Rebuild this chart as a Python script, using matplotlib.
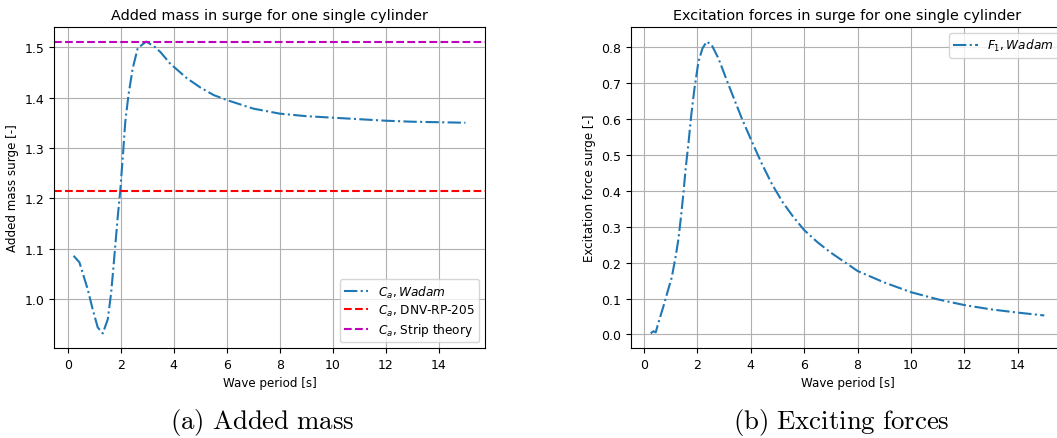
import matplotlib
matplotlib.use("Agg")
import matplotlib.pyplot as plt
import numpy as np

plt.rcParams["mathtext.fontset"] = "dejavusans"

# added mass in surge, Wadam
period_am = [0.22, 0.44, 0.75, 0.94, 1.13, 1.32, 1.51, 1.64, 1.76, 1.89, 1.98,
             2.08, 2.17, 2.29, 2.45, 2.64, 2.96, 3.27, 3.5, 3.9, 4.0, 4.5, 5.0,
             5.5, 6.0, 7.0, 8.0, 9.0, 10.0, 11.0, 12.0, 13.0, 14.0, 15.0]
added_mass = [1.086, 1.073, 1.020, 0.980, 0.944, 0.932, 0.960, 1.014, 1.086,
              1.166, 1.215, 1.285, 1.352, 1.405, 1.458, 1.498, 1.511, 1.501,
              1.490, 1.465, 1.461, 1.438, 1.420, 1.405, 1.395, 1.378, 1.368,
              1.363, 1.360, 1.357, 1.354, 1.352, 1.351, 1.350]
ca_dnv = 1.214
ca_strip = 1.510

# excitation force in surge, Wadam
period_f = [0.25, 0.35, 0.44, 0.54, 0.73, 0.89, 1.04, 1.19, 1.29, 1.39, 1.48,
            1.56, 1.67, 1.77, 1.89, 2.04, 2.19, 2.35, 2.54, 2.79, 3.17, 3.67,
            4.05, 4.4, 4.8, 5.2, 5.6, 6.0, 6.5, 7.0, 8.0, 9.0, 10.0, 11.0,
            12.0, 13.0, 14.0, 15.0]
force = [0.003, 0.009, 0.006, 0.033, 0.079, 0.121, 0.159, 0.219, 0.266, 0.331,
         0.396, 0.462, 0.536, 0.611, 0.685, 0.760, 0.797, 0.816, 0.806, 0.769,
         0.695, 0.601, 0.536, 0.478, 0.418, 0.368, 0.327, 0.291, 0.257, 0.228,
         0.177, 0.145, 0.118, 0.098, 0.082, 0.070, 0.061, 0.053]

W, H = 1057, 439
fig = plt.figure(figsize=(W / 100, H / 100), dpi=100)

leg_kw = dict(fontsize=8.7, labelspacing=0.25, borderpad=0.35)

ax1 = fig.add_axes([54 / W, (H - 349) / H, 431 / W, 321 / H])
ax1.plot(period_am, added_mass, "-.", color="tab:blue", label=r"$C_a, Wadam$")
ax1.axhline(ca_dnv, ls="--", color="r", label=r"$C_a$, DNV-RP-205")
ax1.axhline(ca_strip, ls="--", color="m", label=r"$C_a$, Strip theory")
ax1.set_title("Added mass in surge for one single cylinder", fontsize=10.4)
ax1.set_xlabel("Wave period [s]", fontsize=8.6)
ax1.set_ylabel("Added mass surge [-]", fontsize=8.6)
ax1.grid(True)
ax1.legend(loc="lower right", **leg_kw)

ax2 = fig.add_axes([631 / W, (H - 349) / H, 433 / W, 321 / H])
ax2.plot(period_f, force, "-.", color="tab:blue", label=r"$F_1, Wadam$")
ax2.set_title("Excitation forces in surge for one single cylinder", fontsize=10.4)
ax2.set_xlabel("Wave period [s]", fontsize=8.6)
ax2.set_ylabel("Excitation force surge [-]", fontsize=8.6)
ax2.grid(True)
ax2.legend(loc="upper right", **leg_kw)

for ax in (ax1, ax2):
    ax.tick_params(labelsize=9)
    ax.set_xticks(np.arange(0, 15, 2))

cap_kw = dict(ha="center", va="center", fontsize=19.3, math_fontfamily="cm")
fig.text(262.5 / W, 1 - 423 / H, r"$\mathrm{(a)\ Added\ mass}$", **cap_kw)
fig.text(841.7 / W, 1 - 423 / H, r"$\mathrm{(b)\ Exciting\ forces}$", **cap_kw)

fig.savefig("out.png", dpi=100)
